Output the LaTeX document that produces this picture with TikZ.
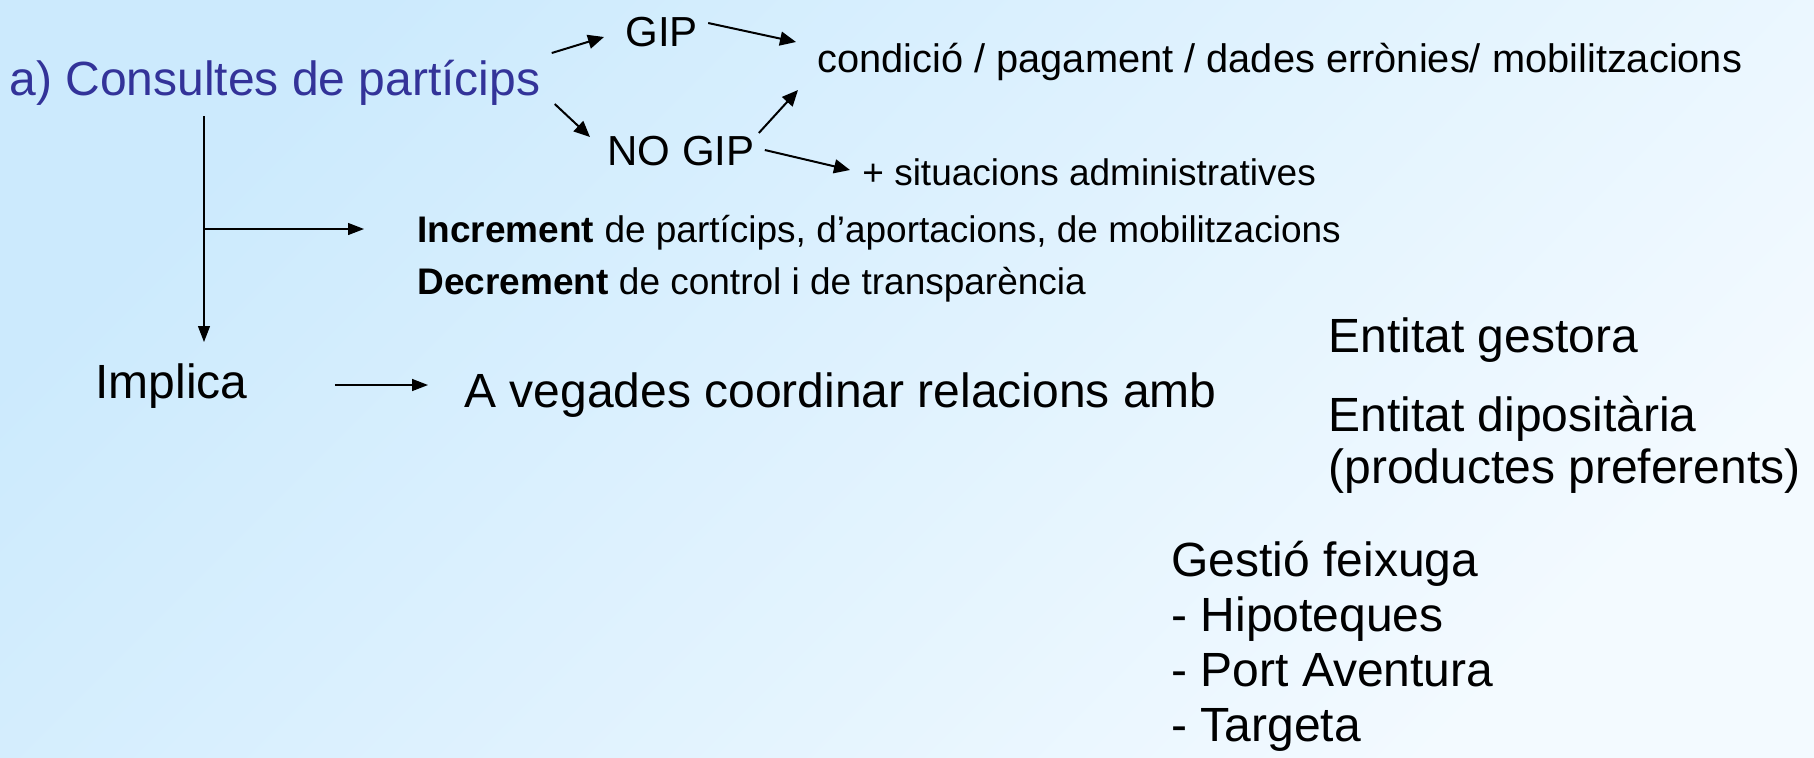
\documentclass[tikz,border=0pt]{standalone}
\usepackage{fontspec}
\setmainfont{Liberation Sans}
\usetikzlibrary{positioning,arrows.meta,calc}
\definecolor{titleblue}{RGB}{51,51,153}
\definecolor{bgtop}{RGB}{204,234,253}
\definecolor{bgbot}{RGB}{243,250,255}

\begin{document}
\begin{tikzpicture}[x=0.5pt,y=-0.5pt,
	txt/.style={inner sep=0pt,anchor=west,align=left},
	big/.style={txt,font=\fontsize{24}{27.5}\selectfont},
	mid/.style={txt,font=\fontsize{21}{24}\selectfont},
	small/.style={txt,font=\fontsize{18.5}{26}\selectfont},
	arr/.style={-{Triangle[length=8pt,width=7pt]},line width=1pt},
	thin/.style={-{Triangle[length=8pt,width=6pt]},line width=0.6pt}]
	\shade[top color=bgtop,bottom color=bgbot,shading angle=45] (0,0) rectangle (1814,757);
	\useasboundingbox (0,0) rectangle (1814,757);
	% top part
	\node(cons) [big,text=titleblue] at (9,83) {a) Consultes de partícips};
	\node(gip) [mid] at (625,32) {GIP};
	\node(nogip) [mid] at (607,151) {NO GIP};
	\node(cond) [small,font=\fontsize{19.9}{26}\selectfont] at (817,62) {condició / pagament / dades errònies/ mobilitzacions};
	\node(sit) [small] at (862,172) {+ situacions administratives};
	\node(incr) [small] at (417,259) {\textbf{Increment} de partícips, d’aportacions, de mobilitzacions\\\textbf{Decrement} de control i de transparència};
	% bottom part
	\node(impl) [big] at (95,386) {Implica};
	\node(aveg) [big] at (464,395) {A vegades coordinar relacions amb};
	\node(gest) [big] at (1328,340) {Entitat gestora};
	\node(dipo) [big,font=\fontsize{24}{26}\selectfont] at (1328,445) {Entitat dipositària\\(productes preferents)};
	\node(feix) [big] at (1171,646) {Gestió feixuga\\- Hipoteques\\- Port Aventura\\- Targeta};
	\coordinate (fork) at (204,229);
	\draw[arr] ([shift={(11,-30)}]cons.east) -- ([shift={(-21,5)}]gip.west);
	\draw[arr] ([shift={(14,21)}]cons.east) -- ([shift={(-17,-14)}]nogip.west);
	\draw[arr] ([shift={(10,-9)}]gip.east) -- ([shift={(-21,-20)}]cond.west);
	\draw[arr] ([shift={(4,-18)}]nogip.east) -- ([shift={(-19,28)}]cond.west);
	\draw[arr] ([shift={(10,-1)}]nogip.east) -- ([shift={(-12,-2)}]sit.west);
	\draw[thin] ([shift={(195,33)}]cons.west) -- ([shift={(109,-44)}]impl.west);
	\draw[thin] (fork) -- ([shift={(-53,-30)}]incr.west);
	\draw[thin,line width=0.75pt] ([shift={(87,-1)}]impl.east) -- ([shift={(-36,-10)}]aveg.west);
\end{tikzpicture}
\end{document}
